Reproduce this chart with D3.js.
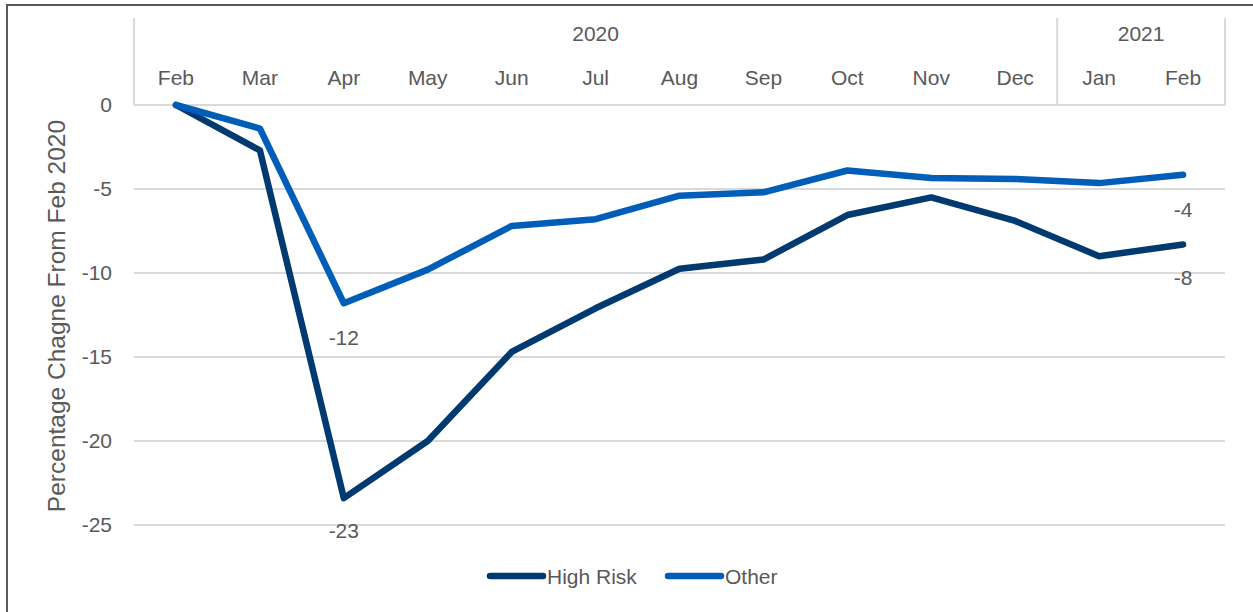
<!DOCTYPE html>
<html>
<head>
<meta charset="utf-8">
<script src="https://cdn.jsdelivr.net/npm/d3@7"></script>
<style>
  body { margin: 0; background: #fff; }
  text { font-family: "Liberation Sans", "Open Sans", sans-serif; fill: #595959; }
</style>
</head>
<body>
<div id="chart"></div>
<script>
// data
var months = ["Feb", "Mar", "Apr", "May", "Jun", "Jul", "Aug", "Sep", "Oct", "Nov", "Dec", "Jan", "Feb"];
var years = [{ label: "2020", from: 0, to: 10 }, { label: "2021", from: 11, to: 12 }];
var highRisk = [0, -2.7, -23.4, -20.0, -14.7, -12.1, -9.75, -9.2, -6.55, -5.5, -6.9, -9.0, -8.3];
var other = [0, -1.4, -11.8, -9.8, -7.2, -6.8, -5.4, -5.2, -3.9, -4.35, -4.4, -4.65, -4.15];
var yTicks = [0, -5, -10, -15, -20, -25];
var labels = [
  { series: "high", i: 2, text: "-23", dy: 40 },
  { series: "other", i: 2, text: "-12", dy: 42 },
  { series: "high", i: 12, text: "-8", dy: 41 },
  { series: "other", i: 12, text: "-4", dy: 42 }
];

var svgWidth = 1253;
var svgHeight = 612;
var margin = { top: 105, right: 28, bottom: 87, left: 134 };
var width = svgWidth - margin.left - margin.right;
var height = svgHeight - margin.top - margin.bottom;

var colors = { high: "#003A70", other: "#005EB8" };
var fontSize = "21px";

var svg = d3.select("#chart").append("svg")
  .attr("width", svgWidth)
  .attr("height", svgHeight);

// outer frame (left and top edges only show)
svg.append("path")
  .attr("d", "M7,612 V5 H1253")
  .attr("fill", "none")
  .attr("stroke", "#595959")
  .attr("stroke-width", 2);

var g = svg.append("g")
  .attr("transform", "translate(" + margin.left + "," + margin.top + ")");

var x = d3.scaleBand()
  .domain(d3.range(months.length))
  .range([0, width]);

var y = d3.scaleLinear()
  .domain([0, -25])
  .range([0, 420]);

// gridlines
g.selectAll(".grid")
  .data(yTicks)
  .enter().append("line")
  .attr("x1", 0)
  .attr("x2", width)
  .attr("y1", function(d) { return y(d); })
  .attr("y2", function(d) { return y(d); })
  .attr("stroke", "#d9d9d9")
  .attr("stroke-width", 2);

// y axis labels (plain hyphen like the original)
var yAxis = d3.axisLeft(y)
  .tickValues(yTicks)
  .tickSize(0)
  .tickPadding(22)
  .tickFormat(function(d) { return String(d); });
var yg = g.append("g").call(yAxis);
yg.select(".domain").remove();
yg.selectAll("text")
  .style("font-size", fontSize)
  .attr("fill", "#595959");

// category header box on top
var header = g.append("g").attr("transform", "translate(0,-87)");
var boundaries = [0, x(11), width];
header.selectAll(".sep")
  .data(boundaries)
  .enter().append("line")
  .attr("x1", function(d) { return d; })
  .attr("x2", function(d) { return d; })
  .attr("y1", 0)
  .attr("y2", 87)
  .attr("stroke", "#d9d9d9")
  .attr("stroke-width", 2);

header.selectAll(".month")
  .data(months)
  .enter().append("text")
  .attr("x", function(d, i) { return x(i) + x.bandwidth() / 2; })
  .attr("y", 67)
  .attr("text-anchor", "middle")
  .style("font-size", fontSize)
  .text(function(d) { return d; });

header.selectAll(".year")
  .data(years)
  .enter().append("text")
  .attr("x", function(d) {
    return (x(d.from) + x(d.to) + x.bandwidth()) / 2;
  })
  .attr("y", 23)
  .attr("text-anchor", "middle")
  .style("font-size", fontSize)
  .text(function(d) { return d.label; });

// lines
var line = d3.line()
  .x(function(d, i) { return x(i) + x.bandwidth() / 2; })
  .y(function(d) { return y(d); });

g.append("path")
  .datum(highRisk)
  .attr("d", line)
  .attr("fill", "none")
  .attr("stroke", colors.high)
  .attr("stroke-width", 6.5)
  .attr("stroke-linejoin", "round")
  .attr("stroke-linecap", "round");

g.append("path")
  .datum(other)
  .attr("d", line)
  .attr("fill", "none")
  .attr("stroke", colors.other)
  .attr("stroke-width", 6.5)
  .attr("stroke-linejoin", "round")
  .attr("stroke-linecap", "round");

// data labels
g.selectAll(".dlabel")
  .data(labels)
  .enter().append("text")
  .attr("x", function(d) { return x(d.i) + x.bandwidth() / 2; })
  .attr("y", function(d) {
    var v = d.series == "high" ? highRisk[d.i] : other[d.i];
    return y(v) + d.dy;
  })
  .attr("text-anchor", "middle")
  .style("font-size", fontSize)
  .text(function(d) { return d.text; });

// y axis title
svg.append("text")
  .attr("transform", "translate(65," + 316 + ") rotate(-90)")
  .attr("text-anchor", "middle")
  .style("font-size", "24.5px")
  .text("Percentage Chagne From Feb 2020");

// legend
var legend = svg.append("g").attr("transform", "translate(0,576)");
var items = [
  { name: "High Risk", color: colors.high, x: 490 },
  { name: "Other", color: colors.other, x: 668 }
];
items.forEach(function(it) {
  legend.append("line")
    .attr("x1", it.x)
    .attr("x2", it.x + 53)
    .attr("y1", 0)
    .attr("y2", 0)
    .attr("stroke", it.color)
    .attr("stroke-width", 6.5)
    .attr("stroke-linecap", "round");
  legend.append("text")
    .attr("x", it.x + 57)
    .attr("y", 8)
    .style("font-size", fontSize)
    .text(it.name);
});
</script>
</body>
</html>
